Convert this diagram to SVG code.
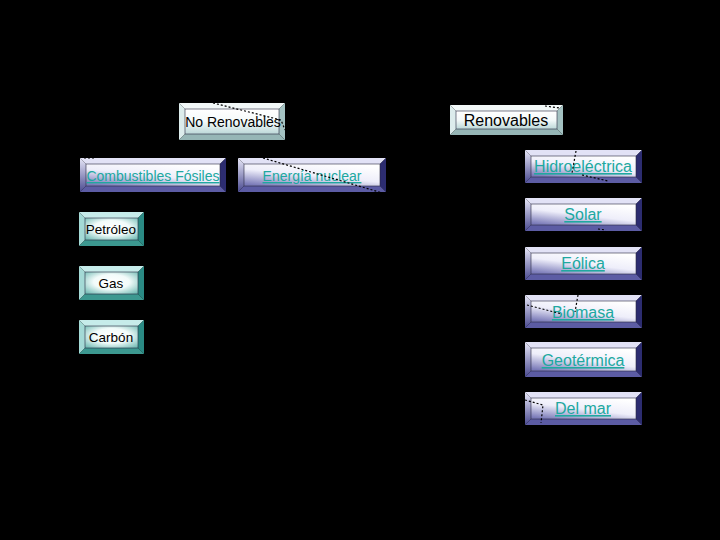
<svg xmlns="http://www.w3.org/2000/svg" width="720" height="540" viewBox="0 0 720 540">
<defs>
<linearGradient id="gFaceN" x1="0.75" y1="0" x2="0.15" y2="1">
<stop offset="0" stop-color="#ffffff"/><stop offset="0.5" stop-color="#eeeefa"/><stop offset="1" stop-color="#7a7ab8"/>
</linearGradient>
<linearGradient id="gLeftN" x1="0" y1="0" x2="0" y2="1">
<stop offset="0" stop-color="#e8e8f8"/><stop offset="1" stop-color="#4a4a90"/>
</linearGradient>
<radialGradient id="gFaceT" cx="0.5" cy="0.45" r="0.75">
<stop offset="0" stop-color="#ffffff"/><stop offset="0.45" stop-color="#f2fbfa"/><stop offset="1" stop-color="#5eb2aa"/>
</radialGradient>
<linearGradient id="gFaceG" x1="0" y1="0" x2="0" y2="1">
<stop offset="0" stop-color="#ffffff"/><stop offset="0.5" stop-color="#f4fafa"/><stop offset="1" stop-color="#bcd8d8"/>
</linearGradient>
</defs>
<style>
.bg{fill:#000}
.n .top{fill:#e2e2f6}.n .lft{fill:url(#gLeftN)}.n .rgt{fill:#2c2c70}.n .bot{fill:#5c5ca4}.n .face{fill:url(#gFaceN)}
.t .top{fill:#c6ecea}.t .lft{fill:#a4dad6}.t .rgt{fill:#2a8a84}.t .bot{fill:#3c9890}.t .face{fill:url(#gFaceT)}
.g .top{fill:#f2f8f8}.g .lft{fill:#dcecec}.g .rgt{fill:#a4c2c2}.g .bot{fill:#96b6b6}.g .face{fill:url(#gFaceG)}
.face{stroke:#2a2a40;stroke-width:0.6}
text{font-family:"Liberation Sans",Arial,sans-serif;text-anchor:middle}
.blk{fill:#000}
.lnk{fill:#20a8a0;text-decoration:underline}
.dot{fill:none;stroke:#000;stroke-width:1.2;stroke-dasharray:2 2}
</style>
<rect class="bg" x="0" y="0" width="720" height="540"/>

<g id="node-no-renovables" class="g">
<polygon class="top" points="179,103 285,103 279,109 185,109"/>
<polygon class="lft" points="179,103 185,109 185,134 179,140"/>
<polygon class="rgt" points="285,103 285,140 279,134 279,109"/>
<polygon class="bot" points="179,140 285,140 279,134 185,134"/>
<rect class="face" x="185" y="109" width="94" height="25"/>
<text class="blk" x="233" y="127" font-size="14">No Renovables</text>
</g>

<g id="node-renovables" class="g">
<polygon class="top" points="450,105 563,105 557,111 456,111"/>
<polygon class="lft" points="450,105 456,111 456,129 450,135"/>
<polygon class="rgt" points="563,105 563,135 557,129 557,111"/>
<polygon class="bot" points="450,135 563,135 557,129 456,129"/>
<rect class="face" x="456" y="111" width="101" height="18"/>
<text class="blk" x="506" y="126" font-size="16">Renovables</text>
</g>

<g id="node-combustibles" class="n">
<polygon class="top" points="80,158 226,158 220,164 86,164"/>
<polygon class="lft" points="80,158 86,164 86,186 80,192"/>
<polygon class="rgt" points="226,158 226,192 220,186 220,164"/>
<polygon class="bot" points="80,192 226,192 220,186 86,186"/>
<rect class="face" x="86" y="164" width="134" height="22"/>
<text class="lnk" x="153" y="181" font-size="14">Combustibles Fósiles</text>
</g>

<g id="node-nuclear" class="n">
<polygon class="top" points="238,158 386,158 380,164 244,164"/>
<polygon class="lft" points="238,158 244,164 244,186 238,192"/>
<polygon class="rgt" points="386,158 386,192 380,186 380,164"/>
<polygon class="bot" points="238,192 386,192 380,186 244,186"/>
<rect class="face" x="244" y="164" width="136" height="22"/>
<text class="lnk" x="312" y="181" font-size="14">Energía nuclear</text>
</g>

<g id="node-petroleo" class="t">
<polygon class="top" points="79,212 144,212 138,218 85,218"/>
<polygon class="lft" points="79,212 85,218 85,240 79,246"/>
<polygon class="rgt" points="144,212 144,246 138,240 138,218"/>
<polygon class="bot" points="79,246 144,246 138,240 85,240"/>
<rect class="face" x="85" y="218" width="53" height="22"/>
<text class="blk" x="111" y="234" font-size="13.5">Petróleo</text>
</g>

<g id="node-gas" class="t">
<polygon class="top" points="79,266 144,266 138,272 85,272"/>
<polygon class="lft" points="79,266 85,272 85,294 79,300"/>
<polygon class="rgt" points="144,266 144,300 138,294 138,272"/>
<polygon class="bot" points="79,300 144,300 138,294 85,294"/>
<rect class="face" x="85" y="272" width="53" height="22"/>
<text class="blk" x="111" y="288" font-size="13.5">Gas</text>
</g>

<g id="node-carbon" class="t">
<polygon class="top" points="79,320 144,320 138,326 85,326"/>
<polygon class="lft" points="79,320 85,326 85,348 79,354"/>
<polygon class="rgt" points="144,320 144,354 138,348 138,326"/>
<polygon class="bot" points="79,354 144,354 138,348 85,348"/>
<rect class="face" x="85" y="326" width="53" height="22"/>
<text class="blk" x="111" y="342" font-size="13.5">Carbón</text>
</g>

<g id="node-hidroelectrica" class="n">
<polygon class="top" points="525,150 642,150 636,156 531,156"/>
<polygon class="lft" points="525,150 531,156 531,177 525,183"/>
<polygon class="rgt" points="642,150 642,183 636,177 636,156"/>
<polygon class="bot" points="525,183 642,183 636,177 531,177"/>
<rect class="face" x="531" y="156" width="105" height="21"/>
<text class="lnk" x="583" y="172" font-size="16">Hidroeléctrica</text>
</g>

<g id="node-solar" class="n">
<polygon class="top" points="525,198 642,198 636,204 531,204"/>
<polygon class="lft" points="525,198 531,204 531,225 525,231"/>
<polygon class="rgt" points="642,198 642,231 636,225 636,204"/>
<polygon class="bot" points="525,231 642,231 636,225 531,225"/>
<rect class="face" x="531" y="204" width="105" height="21"/>
<text class="lnk" x="583" y="220" font-size="16">Solar</text>
</g>

<g id="node-eolica" class="n">
<polygon class="top" points="525,247 642,247 636,253 531,253"/>
<polygon class="lft" points="525,247 531,253 531,274 525,280"/>
<polygon class="rgt" points="642,247 642,280 636,274 636,253"/>
<polygon class="bot" points="525,280 642,280 636,274 531,274"/>
<rect class="face" x="531" y="253" width="105" height="21"/>
<text class="lnk" x="583" y="269" font-size="16">Eólica</text>
</g>

<g id="node-biomasa" class="n">
<polygon class="top" points="525,295 642,295 636,301 531,301"/>
<polygon class="lft" points="525,295 531,301 531,322 525,328"/>
<polygon class="rgt" points="642,295 642,328 636,322 636,301"/>
<polygon class="bot" points="525,328 642,328 636,322 531,322"/>
<rect class="face" x="531" y="301" width="105" height="21"/>
<text class="lnk" x="583" y="318" font-size="16">Biomasa</text>
</g>

<g id="node-geotermica" class="n">
<polygon class="top" points="525,342 642,342 636,348 531,348"/>
<polygon class="lft" points="525,342 531,348 531,371 525,377"/>
<polygon class="rgt" points="642,342 642,377 636,371 636,348"/>
<polygon class="bot" points="525,377 642,377 636,371 531,371"/>
<rect class="face" x="531" y="348" width="105" height="23"/>
<text class="lnk" x="583" y="366" font-size="16">Geotérmica</text>
</g>

<g id="node-del-mar" class="n">
<polygon class="top" points="525,392 642,392 636,398 531,398"/>
<polygon class="lft" points="525,392 531,398 531,419 525,425"/>
<polygon class="rgt" points="642,392 642,425 636,419 636,398"/>
<polygon class="bot" points="525,425 642,425 636,419 531,419"/>
<rect class="face" x="531" y="398" width="105" height="21"/>
<text class="lnk" x="583" y="414" font-size="16">Del mar</text>
</g>

<g id="connectors">
<polyline class="dot" points="213,103 281,120 285,130"/>
<line class="dot" x1="545" y1="106" x2="560" y2="108"/>
<line class="dot" x1="84" y1="158" x2="96" y2="158"/>
<line class="dot" x1="263" y1="158" x2="386" y2="194"/>
<line class="dot" x1="576" y1="151" x2="572" y2="173"/>
<line class="dot" x1="582" y1="175" x2="608" y2="181"/>
<line class="dot" x1="598" y1="229" x2="606" y2="230"/>
<line class="dot" x1="527" y1="305" x2="562" y2="314"/>
<line class="dot" x1="578" y1="295" x2="575" y2="312"/>
<polyline class="dot" points="525,400 543,405 541,423"/>
</g>
</svg>
